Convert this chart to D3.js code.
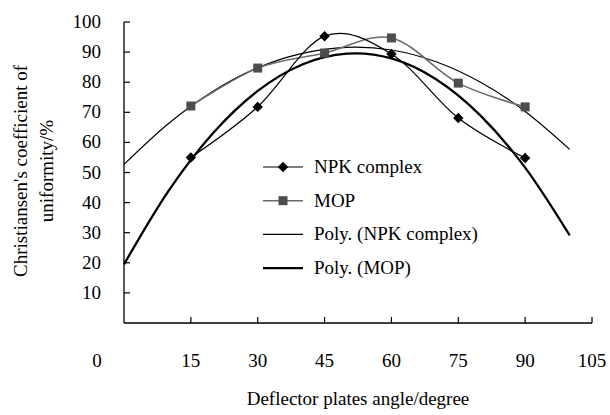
<!DOCTYPE html>
<html>
<head>
<meta charset="utf-8">
<script src="https://cdn.jsdelivr.net/npm/d3@7"></script>
<style>
  body { margin: 0; background: #fff; }
  svg text { font-family: "Times New Roman", "Liberation Serif", "DejaVu Serif", serif; font-size: 19px; fill: #000; }
</style>
</head>
<body>
<svg width="610" height="415" font-family="Liberation Serif"></svg>
<script>
// data
var angles = [15, 30, 45, 60, 75, 90];
var npk = [55, 71.8, 95.3, 89.4, 68.1, 54.8];
var mop = [72.1, 84.7, 89.7, 94.7, 79.7, 71.8];

// trend curves, read every 10 degrees
var trendX = [0, 10, 20, 30, 40, 50, 60, 70, 80, 90, 100];
var polyThin = [52.7, 66.3, 77, 84.8, 89.6, 91.6, 90.7, 86.8, 80, 70.3, 57.7];
var polyThick = [19.5, 43.9, 63.1, 77.1, 85.9, 89.5, 87.9, 81, 68.9, 51.6, 29.1];

var xTicks = [0, 15, 30, 45, 60, 75, 90, 105];
var yTicks = [10, 20, 30, 40, 50, 60, 70, 80, 90, 100];

var svg = d3.select("svg");

var plot = {left: 124, right: 592, top: 22, bottom: 323};

var x = d3.scaleLinear().domain([0, 105]).range([plot.left, plot.right]);
var y = d3.scaleLinear().domain([0, 100]).range([plot.bottom, plot.top]);

// axes
svg.append("line")
    .attr("x1", plot.left).attr("y1", plot.top).attr("x2", plot.left).attr("y2", plot.bottom)
    .attr("stroke", "#000").attr("stroke-width", 1.3);
svg.append("line")
    .attr("x1", plot.left).attr("y1", plot.bottom).attr("x2", plot.right).attr("y2", plot.bottom)
    .attr("stroke", "#000").attr("stroke-width", 1.3);

svg.selectAll(".ytick")
    .data(yTicks)
    .enter().append("line")
    .attr("x1", plot.left).attr("x2", plot.left + 6)
    .attr("y1", function(d) { return y(d); })
    .attr("y2", function(d) { return y(d); })
    .attr("stroke", "#000").attr("stroke-width", 1.2);

svg.selectAll(".ylab")
    .data(yTicks)
    .enter().append("text")
    .attr("x", 101)
    .attr("y", function(d) { return y(d) + 6; })
    .attr("text-anchor", "end")
    .text(function(d) { return d; });

svg.selectAll(".xtick")
    .data(xTicks.slice(1))
    .enter().append("line")
    .attr("x1", function(d) { return x(d); })
    .attr("x2", function(d) { return x(d); })
    .attr("y1", plot.bottom).attr("y2", plot.bottom - 6)
    .attr("stroke", "#000").attr("stroke-width", 1.2);

svg.selectAll(".xlab")
    .data(xTicks)
    .enter().append("text")
    .attr("x", function(d) { return d === 0 ? 97 : x(d); })
    .attr("y", 367)
    .attr("text-anchor", "middle")
    .text(function(d) { return d; });

// axis titles
svg.append("text")
    .attr("x", 358).attr("y", 405)
    .attr("text-anchor", "middle")
    .text("Deflector plates angle/degree");

var yt = svg.append("text")
    .attr("transform", "translate(27,171) rotate(-90)")
    .attr("text-anchor", "middle");
yt.append("tspan").attr("x", 0).attr("y", 0).text("Christiansen's coefficient of");
yt.append("tspan").attr("x", 0).attr("y", 26).text("uniformity/%");

// lines
var smooth = d3.line()
    .x(function(d) { return x(d[0]); })
    .y(function(d) { return y(d[1]); })
    .curve(d3.curveCatmullRom.alpha(0));

var npkPts = d3.zip(angles, npk);
var mopPts = d3.zip(angles, mop);

svg.append("path")
    .attr("d", smooth(d3.zip(trendX, polyThin)))
    .attr("fill", "none").attr("stroke", "#000").attr("stroke-width", 1.2);
svg.append("path")
    .attr("d", smooth(d3.zip(trendX, polyThick)))
    .attr("fill", "none").attr("stroke", "#000").attr("stroke-width", 2.3);

svg.append("path")
    .attr("d", smooth(mopPts))
    .attr("fill", "none").attr("stroke", "#6b6b6b").attr("stroke-width", 1.6);
svg.append("path")
    .attr("d", smooth(npkPts))
    .attr("fill", "none").attr("stroke", "#000").attr("stroke-width", 1.2);

svg.selectAll(".sq")
    .data(mopPts)
    .enter().append("rect")
    .attr("x", function(d) { return x(d[0]) - 4.5; })
    .attr("y", function(d) { return y(d[1]) - 4.5; })
    .attr("width", 9).attr("height", 9)
    .attr("fill", "#4d4d4d");

var diamond = d3.symbol().type(d3.symbolDiamond2).size(70);
svg.selectAll(".dm")
    .data(npkPts)
    .enter().append("path")
    .attr("d", diamond)
    .attr("transform", function(d) { return "translate(" + x(d[0]) + "," + y(d[1]) + ")"; })
    .attr("fill", "#000");

// legend
var legend = [
    {name: "NPK complex", color: "#000", w: 1.2, mark: "diamond"},
    {name: "MOP", color: "#6b6b6b", w: 1.6, mark: "square"},
    {name: "Poly. (NPK complex)", color: "#000", w: 1.2, mark: null},
    {name: "Poly. (MOP)", color: "#000", w: 2.3, mark: null}
];

var lg = svg.selectAll(".lg")
    .data(legend)
    .enter().append("g")
    .attr("transform", function(d, i) { return "translate(263," + (167 + i * 33.7) + ")"; });

lg.append("line")
    .attr("x1", 0).attr("x2", 40).attr("y1", 0).attr("y2", 0)
    .attr("stroke", function(d) { return d.color; })
    .attr("stroke-width", function(d) { return d.w; });

lg.filter(function(d) { return d.mark === "diamond"; })
    .append("path")
    .attr("d", diamond)
    .attr("transform", "translate(20,0)")
    .attr("fill", "#000");

lg.filter(function(d) { return d.mark === "square"; })
    .append("rect")
    .attr("x", 15.5).attr("y", -4.5).attr("width", 9).attr("height", 9)
    .attr("fill", "#4d4d4d");

lg.append("text")
    .attr("x", 51).attr("y", 6)
    .text(function(d) { return d.name; });
</script>
</body>
</html>
